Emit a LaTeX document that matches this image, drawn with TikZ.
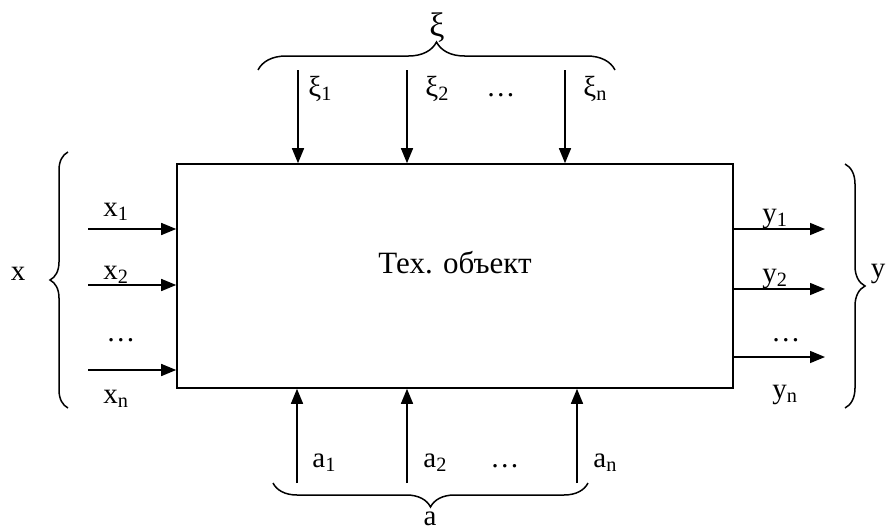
\documentclass[tikz,border=0pt]{standalone}
\usepackage{fontspec}
\setmainfont{Liberation Serif}
\usetikzlibrary{arrows.meta, positioning, calc, decorations.pathreplacing}

\begin{document}
\begin{tikzpicture}[
    x=0.5pt, y=-0.5pt,
    >={Triangle[length=7.5pt, width=6pt]},
    sig/.style={->, line width=0.75pt},
    lbl/.style={anchor=base west, inner sep=0pt, font=\fontsize{14.5}{17}\selectfont},
    grp/.style={anchor=base, inner sep=0pt, font=\fontsize{14.5}{17}\selectfont},
    brc/.style={decorate, decoration={brace, amplitude=#1}, line width=0.75pt},
    block/.style={draw, line width=0.8pt, minimum width=278pt, minimum height=112pt, inner sep=0pt},
]
    \useasboundingbox (0,0) rectangle (888,530);

    % object
    \node[block] (obj) at (455,276) {};
    \node[anchor=base, inner sep=0pt, font=\fontsize{15.5}{18}\selectfont] (objname) at (455,273) {Тех. объект};

    % inputs x
    \coordinate (xin1) at (88,229);
    \coordinate (xin2) at (88,285);
    \coordinate (xinn) at (88,370);
    \foreach \c in {xin1, xin2, xinn}
        \draw[sig] (\c) -- (\c -| obj.west);
    \node[lbl] (lx1) at (103,216) {x\textsubscript{1}};
    \node[lbl] (lx2) at (103,279) {x\textsubscript{2}};
    \node[lbl] (lxd) at (106,341) {…};
    \node[lbl] (lxn) at (103,403) {x\textsubscript{n}};
    \draw[brc=9pt] (68,408) -- (68,152);
    \node[grp] (lx) at (18,280) {x};

    % outputs y
    \coordinate (yout1) at (825,229);
    \coordinate (yout2) at (825,289);
    \coordinate (youtn) at (825,357);
    \foreach \c in {yout1, yout2, youtn}
        \draw[sig] (\c -| obj.east) -- (\c);
    \node[lbl] (ly1) at (762,222) {y\textsubscript{1}};
    \node[lbl] (ly2) at (762,282) {y\textsubscript{2}};
    \node[lbl] (lyd) at (771,341) {…};
    \node[lbl] (lyn) at (772,398) {y\textsubscript{n}};
    \draw[brc=10pt] (845,164) -- (845,408);
    \node[grp] (ly) at (878,277) {y};

    % disturbances xi
    \coordinate (xi1) at (298,70);
    \coordinate (xi2) at (407,70);
    \coordinate (xin) at (565,70);
    \foreach \c in {xi1, xi2, xin}
        \draw[sig] (\c) -- (\c |- obj.north);
    \node[lbl] (lxi1) at (308,96) {ξ\textsubscript{1}};
    \node[lbl] (lxi2) at (425,96) {ξ\textsubscript{2}};
    \node[lbl] (lxid) at (486,96) {…};
    \node[lbl] (lxin) at (583,96) {ξ\textsubscript{n}};
    \draw[brc=14pt] (258,70) -- (615,70);
    \node[grp, font=\fontsize{17}{20}\selectfont] (lxi) at (437,36) {ξ};

    % controls a
    \coordinate (a1) at (297,483);
    \coordinate (a2) at (407,483);
    \coordinate (an) at (577,483);
    \foreach \c in {a1, a2, an}
        \draw[sig] (\c) -- (\c |- obj.south);
    \node[lbl] (la1) at (312,467) {a\textsubscript{1}};
    \node[lbl] (la2) at (423,467) {a\textsubscript{2}};
    \node[lbl] (lad) at (490,467) {…};
    \node[lbl] (lan) at (593,467) {a\textsubscript{n}};
    \draw[brc=12pt] (588,483) -- (273,483);
    \node[grp] (la) at (430,525) {a};
\end{tikzpicture}
\end{document}
